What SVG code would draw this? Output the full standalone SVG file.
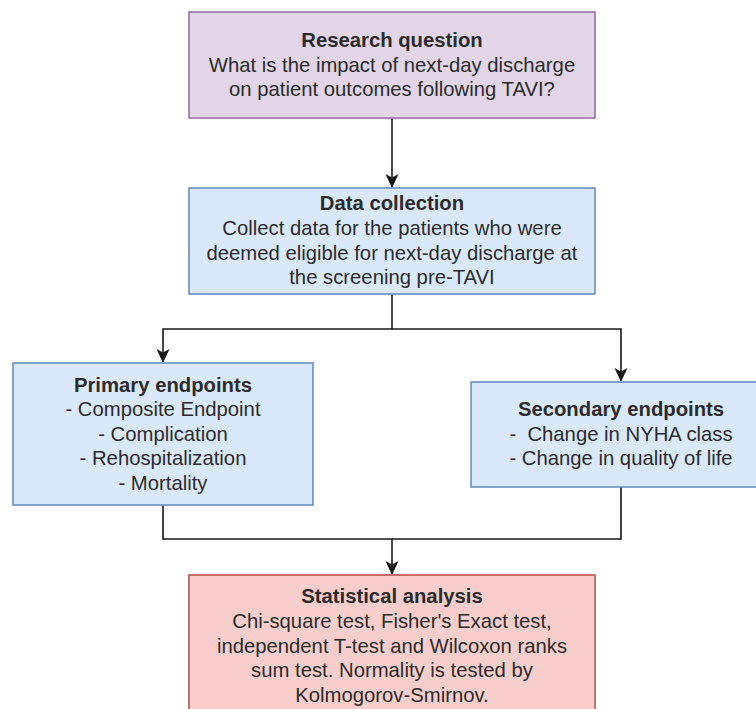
<svg xmlns="http://www.w3.org/2000/svg" width="756" height="709" viewBox="0 0 756 709">
<style>
text{font-family:"Liberation Sans",Arial,sans-serif;font-size:20.3px;fill:#2b2b2b;text-anchor:middle;white-space:pre}
.b{font-weight:bold}
.c{fill:none;stroke:#1a1a1a;stroke-width:1.6}
.p{fill:#e1d5e7;stroke:#9673a6;stroke-width:1.6}
.bl{fill:#dae8fc;stroke:#6c8ebf;stroke-width:1.6}
.r{fill:#f8cecc;stroke:#b85450;stroke-width:1.6}
</style>
<defs>
<marker id="a" markerUnits="userSpaceOnUse" markerWidth="16" markerHeight="16" viewBox="0 0 16 16" refX="14" refY="8" orient="auto">
<path d="M1,1.5 L15,8 L1,14.5 L4.5,8 Z" fill="#1a1a1a"/>
</marker>
</defs>
<rect width="756" height="709" fill="#fff"/>
<g id="connectors">
<path class="c" d="M392,118 V187" marker-end="url(#a)"/>
<path class="c" d="M392,294 V329 H163 V362" marker-end="url(#a)"/>
<path class="c" d="M392,329 H621 V381" marker-end="url(#a)"/>
<path class="c" d="M163,505 V539 H392 V574" marker-end="url(#a)"/>
<path class="c" d="M621,487 V539 H392"/>
</g>
<g id="research">
<rect class="p" x="189" y="12" width="406" height="106"/>
<text x="392" y="47" class="b">Research question</text>
<text x="392" y="72">What is the impact of next-day discharge</text>
<text x="392" y="96">on patient outcomes following TAVI?</text>
</g>
<g id="data">
<rect class="bl" x="189" y="188" width="406" height="106"/>
<text x="392" y="210" class="b">Data collection</text>
<text x="392" y="235">Collect data for the patients who were</text>
<text x="392" y="260">deemed eligible for next-day discharge at</text>
<text x="392" y="284">the screening pre-TAVI</text>
</g>
<g id="primary">
<rect class="bl" x="13" y="363" width="300" height="142"/>
<text x="163" y="392" class="b">Primary endpoints</text>
<text x="163" y="416">- Composite Endpoint</text>
<text x="163" y="441">- Complication</text>
<text x="163" y="465">- Rehospitalization</text>
<text x="163" y="490">- Mortality</text>
</g>
<g id="secondary">
<rect class="bl" x="471" y="382" width="300" height="105"/>
<text x="621" y="416" class="b">Secondary endpoints</text>
<text x="621" y="441">-  Change in NYHA class</text>
<text x="621" y="465">- Change in quality of life</text>
</g>
<g id="stats">
<rect class="r" x="189" y="575" width="406" height="150"/>
<text x="392" y="603" class="b">Statistical analysis</text>
<text x="392" y="628">Chi-square test, Fisher's Exact test,</text>
<text x="392" y="653">independent T-test and Wilcoxon ranks</text>
<text x="392" y="677">sum test. Normality is tested by</text>
<text x="392" y="702">Kolmogorov-Smirnov.</text>
</g>
</svg>
